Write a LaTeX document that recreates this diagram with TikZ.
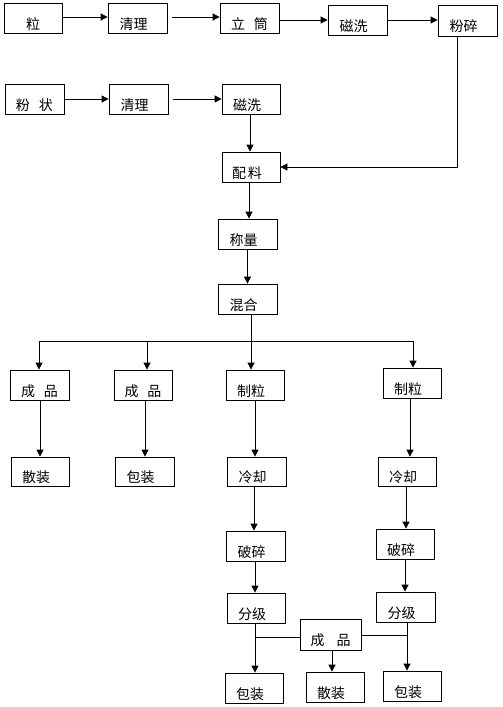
\documentclass[tikz,border=0pt]{standalone}
\usepackage{fontspec}
\newfontfamily\cjk{Noto Sans CJK SC}
\usetikzlibrary{arrows.meta}
\newcommand\bx[6]{\node[procbox,minimum width={(#4-#2)*1pt},minimum height={(#5-#3)*1pt}] (#1) at ({(#2+#4)/2},{(#3+#5)/2}) {#6};}
\newcommand\lt[1]{#1\hspace*{8pt}}
\newcommand\gp{\hspace{9pt}}
\begin{document}
\begin{tikzpicture}[x=1pt,y=-1pt,
  procbox/.style={draw=black,line width=0.8pt,inner sep=0pt,font=\fontsize{14pt}{16pt}\cjk,text height=22pt,text depth=0pt},
  arr/.style={draw=black,line width=0.8pt,-{Triangle[length=7pt,width=7pt]}},
  ln/.style={draw=black,line width=0.8pt}]
\useasboundingbox[fill=white] (0,0) rectangle (503,707);
% row 1
\bx{r1a}{4}{3}{62}{33}{粒}
\bx{r1b}{108}{3}{167}{33}{\lt{清理}}
\bx{r1c}{220}{3}{279}{33}{立\gp 筒}
\bx{r1d}{328}{5}{387}{35}{\lt{磁洗}}
\bx{r1e}{438}{5}{497}{36}{\lt{粉碎}}
% row 2
\bx{r2a}{5}{84}{64}{114}{粉\gp 状}
\bx{r2b}{109}{84}{168}{114}{\lt{清理}}
\bx{r2c}{222}{84}{280}{114}{\lt{磁洗}}
% center column
\bx{pl}{222}{152}{280}{182}{\lt{配\hspace{2pt}料}}
\bx{cl}{218}{219}{277}{249}{\lt{称量}}
\bx{hh}{218}{284}{277}{314}{\lt{混合}}
% branches
\bx{cp1}{10}{370}{69}{400}{成\gp 品}
\bx{cp2}{114}{370}{172}{400}{成\gp 品}
\bx{zl1}{226}{370}{284}{400}{\lt{制粒}}
\bx{zl2}{383}{368}{441}{398}{\lt{制粒}}
\bx{sz1}{11}{457}{69}{486}{\lt{散装}}
\bx{bz1}{115}{457}{174}{486}{\lt{包装}}
\bx{lq1}{227}{457}{286}{486}{\lt{冷却}}
\bx{lq2}{378}{457}{436}{486}{\lt{冷却}}
\bx{ps1}{226}{531}{285}{561}{\lt{破碎}}
\bx{ps2}{376}{529}{434}{559}{\lt{破碎}}
\bx{fj1}{227}{593}{285}{623}{\lt{分级}}
\bx{fj2}{376}{592}{435}{622}{\lt{分级}}
\bx{cp3}{300}{619}{361}{650}{成\hspace{12pt}品}
\bx{bz2}{225}{673}{283}{703}{\lt{包装}}
\bx{sz2}{306}{672}{364}{702}{\lt{散装}}
\bx{bz3}{383}{671}{441}{701}{\lt{包装}}
% row 1 connectors
\draw[arr] ([yshift=1pt]r1a.east) -- ([yshift=1pt]r1b.west);
\draw[arr,shorten <=5pt] ([yshift=1pt]r1b.east) -- ([yshift=1pt]r1c.west);
\draw[arr] (r1c.east |- r1d.west) -- (r1d.west);
\draw[arr] (r1d.east) -- (r1d.east -| r1e.west);
% row 2 connectors
\draw[arr] (r2a.east) -- (r2b.west);
\draw[arr,shorten <=5pt] (r2b.east) -- (r2c.west);
\draw[arr] ([xshift=-1pt]r2c.south) -- ([xshift=-1pt]r2c.south |- pl.north);
\draw[arr] ([xshift=-10.5pt]r1e.south) |- (pl.east);
\draw[arr] ([xshift=-2pt]pl.south) -- ([xshift=-2pt]pl.south |- cl.north);
\draw[arr] (cl.south) -- (hh.north);
% distribution bus
\coordinate (d1) at (39,341);
\coordinate (d2) at (147,341);
\coordinate (d3) at (251,341);
\coordinate (d4) at (413,341);
\draw[ln] (d3 |- hh.south) -- (d3);
\draw[ln] (d1) -- (d4);
\draw[arr] (d1) -- (d1 |- cp1.north);
\draw[arr] (d2) -- (d2 |- cp2.north);
\draw[arr] (d3) -- (d3 |- zl1.north);
\draw[arr] (d4) -- (d4 |- zl2.north);
% branch chains
\draw[arr] ([xshift=0.5pt]cp1.south) -- ([xshift=0.5pt]cp1.south |- sz1.north);
\draw[arr] ([xshift=2pt]cp2.south) -- ([xshift=2pt]cp2.south |- bz1.north);
\draw[arr] (zl1.south) -- (zl1.south |- lq1.north);
\draw[arr] ([xshift=-2pt]zl2.south) -- ([xshift=-2pt]zl2.south |- lq2.north);
\draw[arr] ([xshift=-2.5pt]lq1.south) -- ([xshift=-2.5pt]lq1.south |- ps1.north);
\draw[arr] ([xshift=-1pt]lq2.south) -- ([xshift=-1pt]lq2.south |- ps2.north);
\draw[arr] ([xshift=-0.5pt]ps1.south) -- ([xshift=-0.5pt]ps1.south |- fj1.north);
\draw[arr] (ps2.south) -- (ps2.south |- fj2.north);
% final merge
\coordinate (j1) at (255,637);
\coordinate (j2) at (407,635);
\draw[arr] (j1 |- fj1.south) -- (j1 |- bz2.north);
\draw[ln] (j1) -- (cp3.west |- j1);
\draw[arr] (j2 |- fj2.south) -- (j2 |- bz3.north);
\draw[ln] (cp3.east |- j2) -- (j2);
\draw[arr] ([xshift=1.5pt]cp3.south) -- ([xshift=1.5pt]cp3.south |- sz2.north);
\end{tikzpicture}
\end{document}
